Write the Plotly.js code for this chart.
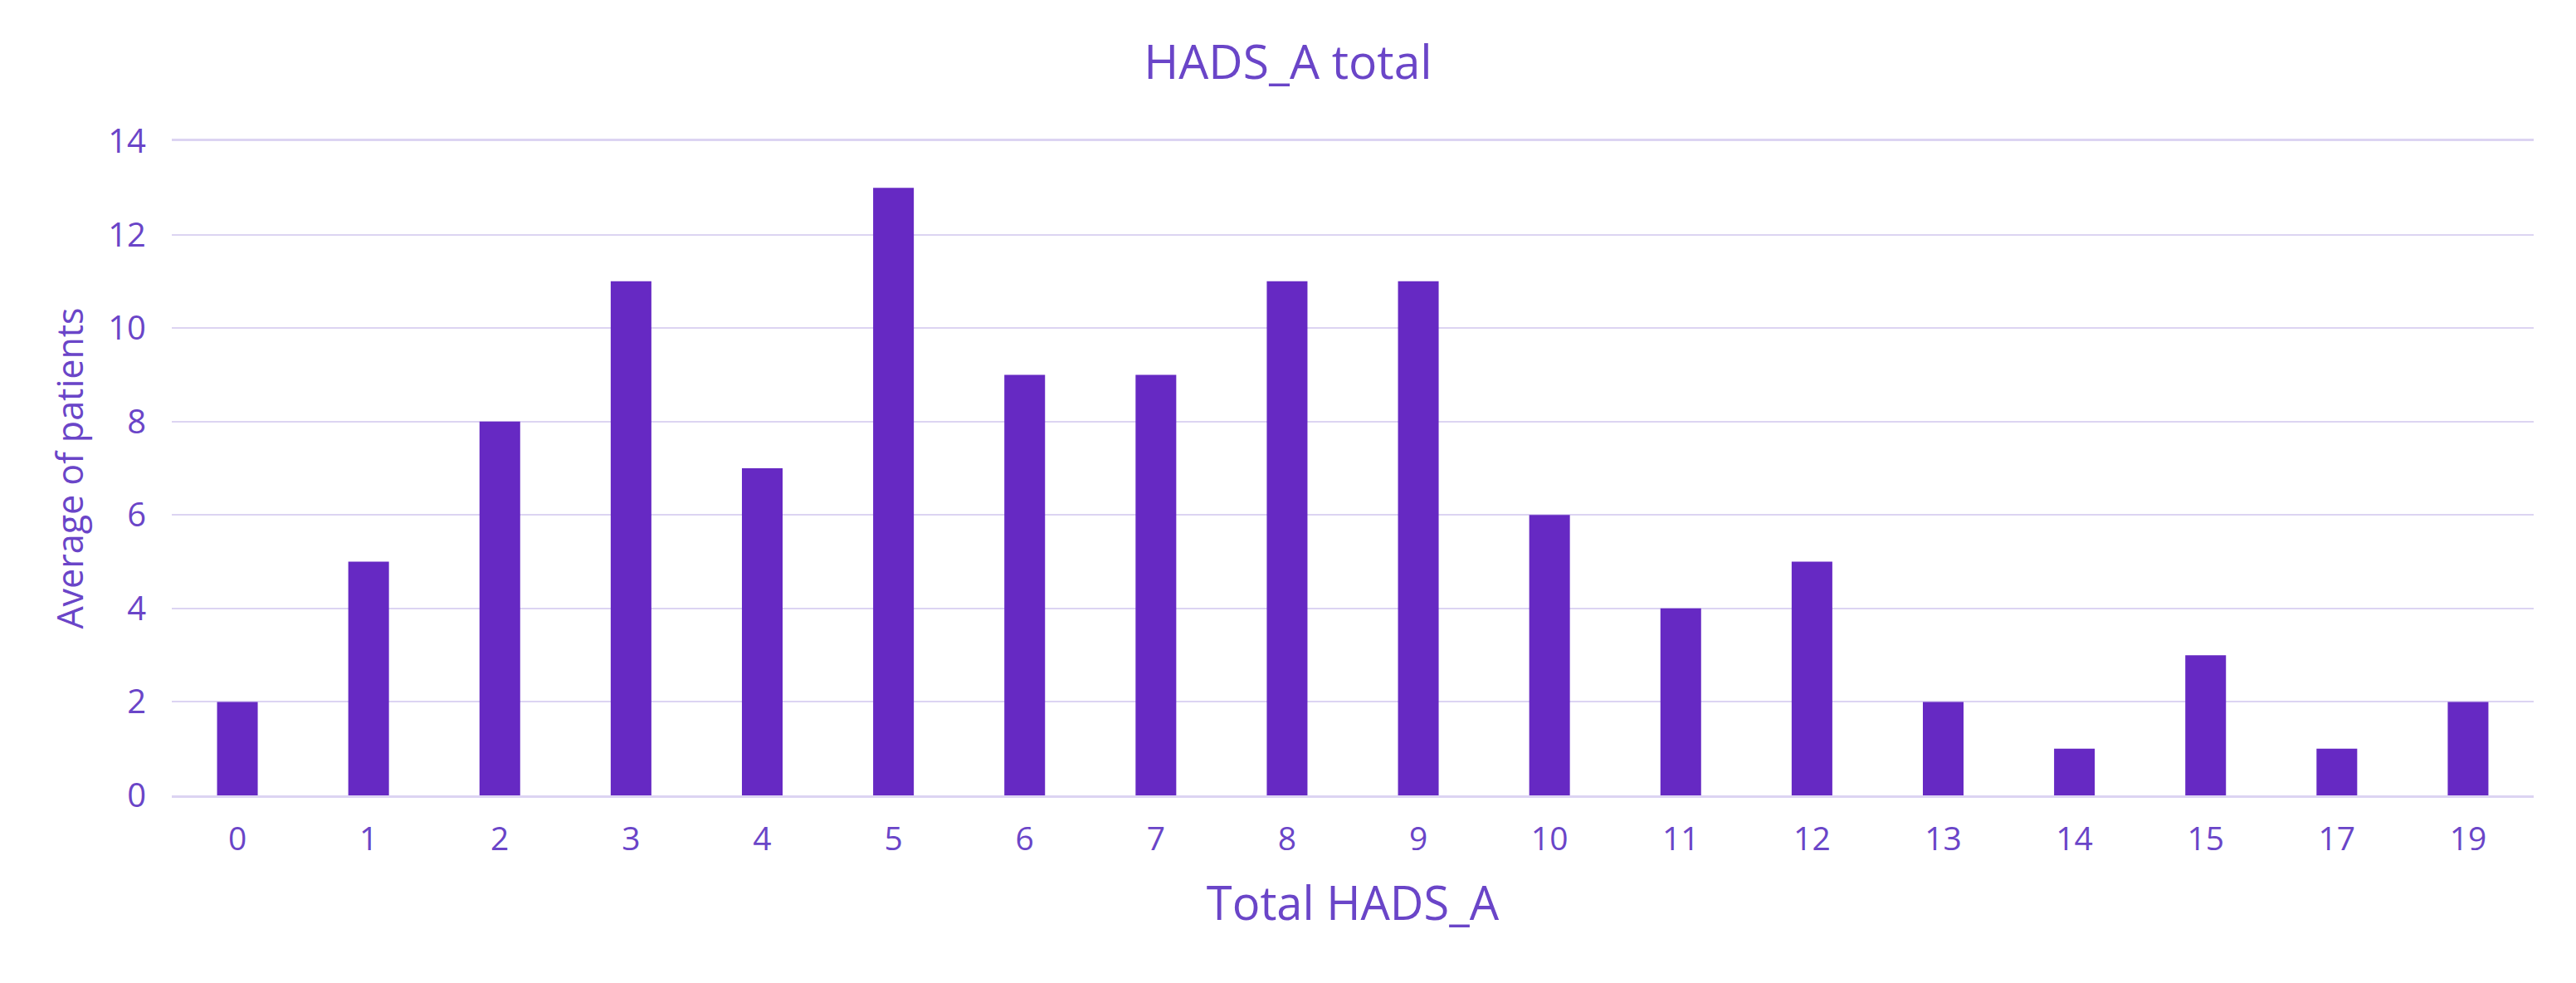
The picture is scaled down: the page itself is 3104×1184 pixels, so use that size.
<!DOCTYPE html>
<html>
<head>
<meta charset="utf-8">
<script src="https://cdn.plot.ly/plotly-3.0.1.min.js"></script>
<style>html,body{margin:0;padding:0;background:#fff;}#chart{width:3104px;height:1184px;}</style>
</head>
<body>
<div id="chart"></div>
<script>
const categories = ["0","1","2","3","4","5","6","7","8","9","10","11","12","13","14","15","17","19"];
const averagePatients = [2,5,8,11,7,13,9,9,11,11,6,4,5,2,1,3,1,2];
const yTickValues = [0,2,4,6,8,10,12,14];

const textColor = "#6A45C8";
const barColor = "#6629C3";
const gridColor = "#DCD4F2";
const fontFamily = "'Open Sans', 'Noto Sans', sans-serif";

const trace = {
  type: "bar",
  x: categories,
  y: averagePatients,
  marker: {color: barColor},
  hoverinfo: "x+y"
};

const layout = {
  width: 3104,
  height: 1184,
  margin: {l: 207, r: 51, t: 170, b: 226},
  paper_bgcolor: "#ffffff",
  plot_bgcolor: "#ffffff",
  bargap: 0.69,
  showlegend: false,
  font: {family: fontFamily, color: textColor},
  title: {
    text: "HADS_A total",
    font: {family: fontFamily, size: 57, color: textColor},
    x: 0.5, xanchor: "center",
    y: 1 - 75/1184, yanchor: "middle", yref: "container"
  },
  xaxis: {
    type: "category",
    tickfont: {family: fontFamily, size: 39, color: textColor},
    showgrid: false,
    showline: true,
    mirror: true,
    linecolor: gridColor,
    linewidth: 3,
    ticks: "",
    ticklabelstandoff: 16,
    title: {text: "Total HADS_A", font: {family: fontFamily, size: 56, color: textColor}, standoff: 36},
    automargin: false
  },
  yaxis: {
    range: [0, 14],
    tickvals: yTickValues,
    tickfont: {family: fontFamily, size: 40, color: textColor},
    showgrid: true,
    gridcolor: gridColor,
    gridwidth: 2,
    zeroline: false,
    showline: false,
    ticks: "",
    ticklabelstandoff: 30,
    title: {text: "Average of patients", font: {family: fontFamily, size: 43, color: textColor}, standoff: 16},
    automargin: false
  }
};

Plotly.newPlot("chart", [trace], layout, {displayModeBar: false});
</script>
</body>
</html>
